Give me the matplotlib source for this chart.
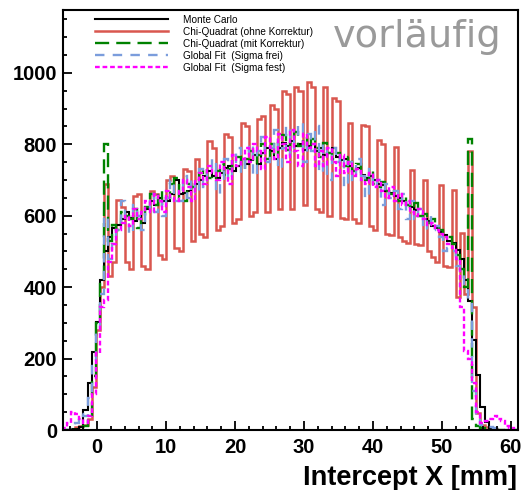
import numpy as np
import matplotlib
matplotlib.use("Agg")
import matplotlib.pyplot as plt
from matplotlib.ticker import MultipleLocator

plt.rcParams['font.family'] = ['Liberation Sans', 'DejaVu Sans']

# histogram range (mm), 110 bins of 0.6 mm
x_lo, x_hi = -5.0, 61.0

monte_carlo = [0, 0, 2, 4, 8, 56, 131, 218, 302, 420,
               500, 540, 565, 575, 590, 610, 595, 585, 600, 580,
               620, 640, 630, 650, 640, 640, 660, 700, 660, 665,
               670, 680, 690, 700, 710, 725, 710, 705, 720, 735,
               740, 725, 740, 760, 745, 755, 770, 745, 775, 790,
               780, 760, 790, 805, 795, 810, 795, 800, 785, 795,
               800, 780, 790, 770, 775, 790, 765, 755, 760, 740,
               725, 735, 715, 705, 710, 700, 690, 685, 670, 665,
               655, 650, 640, 630, 625, 615, 600, 590, 585, 570,
               565, 555, 545, 530, 525, 505, 480, 420, 360, 252,
               154, 64, 23, 5, 2, 0, 0, 0, 0, 0]

chi2_ohne = [0, 0, 3, 8, 12, 15, 30, 120, 280, 400,
             690, 430, 470, 645, 625, 470, 450, 655, 660, 460,
             450, 670, 660, 490, 480, 700, 710, 510, 500, 730,
             725, 530, 760, 550, 540, 810, 790, 560, 570, 830,
             820, 580, 590, 860, 850, 600, 610, 870, 880, 610,
             910, 900, 620, 950, 940, 620, 960, 950, 630, 975,
             960, 620, 610, 960, 600, 930, 920, 595, 590, 860,
             590, 580, 855, 850, 570, 560, 812, 800, 550, 545,
             793, 540, 530, 523, 728, 520, 518, 700, 500, 485,
             470, 686, 460, 457, 672, 373, 551, 380, 780, 345,
             47, 15, 8, 4, 2, 0, 0, 0, 0, 0]

chi2_mit = [0, 0, 0, 0, 2, 10, 30, 150, 300, 420,
            800, 530, 575, 560, 610, 600, 590, 620, 565, 600,
            625, 660, 630, 670, 630, 650, 690, 705, 650, 640,
            690, 680, 700, 720, 735, 705, 700, 725, 745, 715,
            730, 755, 765, 730, 760, 780, 745, 770, 800, 760,
            800, 765, 805, 825, 785, 805, 835, 795, 820, 785,
            815, 790, 765, 805, 775, 760, 775, 745, 740, 765,
            725, 745, 715, 700, 725, 690, 680, 695, 670, 660,
            670, 640, 655, 630, 620, 635, 600, 605, 580, 590,
            575, 560, 545, 540, 520, 490, 450, 400, 815, 30,
            10, 5, 2, 0, 0, 0, 0, 0, 0, 0]

fit_sigma_frei = [0, 0, 2, 20, 45, 40, 90, 180, 280, 380,
                  600, 480, 520, 560, 640, 580, 550, 630, 600, 560,
                  610, 660, 610, 640, 600, 650, 700, 640, 640, 710,
                  650, 700, 660, 730, 680, 720, 760, 660, 700, 760,
                  700, 740, 790, 720, 760, 800, 710, 780, 820, 750,
                  790, 840, 730, 790, 850, 770, 820, 860, 750, 830,
                  780, 850, 720, 800, 700, 790, 750, 770, 680, 750,
                  700, 760, 710, 650, 730, 680, 700, 630, 690, 650,
                  670, 620, 660, 590, 640, 590, 620, 560, 600, 560,
                  570, 540, 500, 510, 500, 460, 440, 400, 360, 110,
                  40, 15, 10, 8, 5, 3, 0, 0, 0, 0]

fit_sigma_fest = [5, 20, 50, 45, 30, 20, 40, 100, 215, 345,
                  364, 470, 520, 560, 580, 600, 570, 620, 590, 610,
                  640, 610, 660, 640, 610, 670, 650, 640, 670, 700,
                  680, 640, 700, 720, 690, 740, 720, 700, 750, 730,
                  690, 770, 740, 760, 790, 750, 800, 780, 730, 820,
                  790, 760, 830, 800, 750, 840, 780, 740, 830, 790,
                  800, 740, 780, 740, 790, 750, 710, 770, 720, 750,
                  710, 730, 700, 690, 720, 680, 700, 670, 650, 680,
                  640, 660, 630, 640, 610, 600, 620, 590, 575, 580,
                  560, 550, 540, 520, 510, 480, 345, 220, 200, 131,
                  51, 20, 25, 30, 40, 30, 25, 10, 5, 0]

labels = ['Monte Carlo', 'Chi-Quadrat (ohne Korrektur)', 'Chi-Quadrat (mit Korrektur)',
          'Global Fit  (Sigma frei)', 'Global Fit  (Sigma fest)']

edges = np.linspace(x_lo, x_hi, len(monte_carlo) + 1)

fig = plt.figure(figsize=(5.25, 4.9), dpi=100)
ax = fig.add_axes([62.7 / 525, 60 / 490, (517.7 - 62.7) / 525, 420 / 490])

h_red = ax.stairs(chi2_ohne, edges, color='#d9574f', lw=1.8, label=labels[1])
h_blk = ax.stairs(monte_carlo, edges, color='black', lw=1.5, label=labels[0])
h_grn = ax.stairs(chi2_mit, edges, color='#008200', lw=1.7, linestyle=(0, (6, 3)), label=labels[2])
h_blu = ax.stairs(fit_sigma_frei, edges, color='#7b9ddc', lw=1.7, linestyle=(0, (4, 3.5)), label=labels[3])
h_mag = ax.stairs(fit_sigma_fest, edges, color='#ff00ff', lw=1.7, linestyle=(0, (2, 1.2)), label=labels[4])

ax.set_xlim(x_lo, x_hi)
ax.set_ylim(0, 1176)

ax.xaxis.set_major_locator(MultipleLocator(10))
ax.xaxis.set_minor_locator(MultipleLocator(2))
ax.yaxis.set_major_locator(MultipleLocator(200))
ax.yaxis.set_minor_locator(MultipleLocator(50))
ax.tick_params(which='both', direction='in', top=False, right=False, width=1.3)
ax.tick_params(which='major', length=6.5)
ax.tick_params(which='minor', length=3.2)
ax.tick_params(axis='x', pad=6)
ax.tick_params(axis='y', pad=4)
for lab in ax.get_xticklabels() + ax.get_yticklabels():
    lab.set_fontsize(14.5)
    lab.set_fontweight('bold')
for sp in ax.spines.values():
    sp.set_linewidth(1.5)

fig.text(517 / 525, 1 - 485 / 490, 'Intercept X [mm]', ha='right', va='baseline',
         fontsize=19.5, fontweight='bold')

fig.text(333 / 525, 1 - 47 / 490, 'vorläufig', ha='left', va='baseline',
         fontsize=27.5, color='#9a9a9a', family='DejaVu Sans')

handles = [h_blk, h_red, h_grn, h_blu, h_mag]
leg = ax.legend(handles, labels, loc='upper left', frameon=False,
                bbox_to_anchor=(95 / 525, 1 - 15 / 490), bbox_transform=fig.transFigure,
                fontsize=7.2, handlelength=7.3, handletextpad=1.5, labelspacing=0.2,
                borderpad=0, borderaxespad=0)

fig.savefig('out.png', dpi=100)
